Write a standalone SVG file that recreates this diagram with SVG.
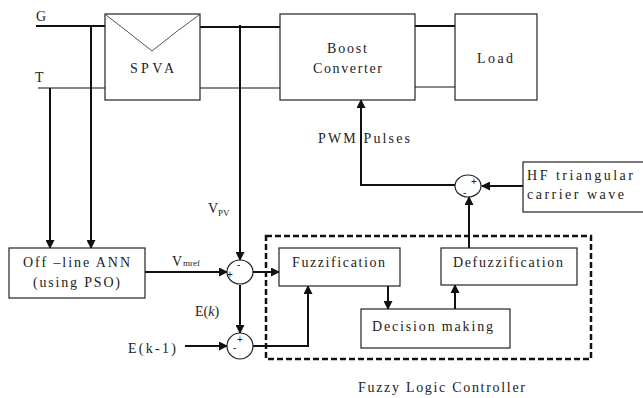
<svg xmlns="http://www.w3.org/2000/svg" width="643" height="398" viewBox="0 0 643 398" font-family="'Liberation Serif','Times New Roman',serif">
<style>
text{font-family:'Liberation Serif','Times New Roman',serif;font-size:14px;fill:#222}
.box{fill:#fff;stroke:#222;stroke-width:1.2}
.w{fill:none;stroke:#111;stroke-width:2}
.t{fill:none;stroke:#111;stroke-width:1.2}
.sum{fill:#fff;stroke:#222;stroke-width:1.2}
.sg{font-family:'Liberation Sans',Arial,sans-serif;font-size:10px}
.sub{font-size:9px}
</style>
<defs>
<marker id="ah" markerWidth="9" markerHeight="9" refX="8" refY="4.5" orient="auto" markerUnits="userSpaceOnUse">
<path d="M0,0 L9,4.5 L0,9 Z" fill="#111"/>
</marker>
</defs>
<rect width="643" height="398" fill="#fff"/>
<g id="connectors">
<line class="w" x1="36" y1="26" x2="105" y2="26"/>
<line class="t" x1="38" y1="88" x2="105" y2="88"/>
<line class="w" x1="200" y1="27" x2="280" y2="27"/>
<line class="t" x1="200" y1="88" x2="280" y2="88"/>
<line class="w" x1="415" y1="26" x2="455" y2="26"/>
<line class="t" x1="415" y1="87" x2="455" y2="87"/>
<line class="w" x1="91" y1="26" x2="91" y2="248" marker-end="url(#ah)"/>
<line class="w" x1="50" y1="88" x2="50" y2="248" marker-end="url(#ah)"/>
<line class="w" x1="240" y1="25" x2="240" y2="260" marker-end="url(#ah)"/>
<line class="w" x1="145" y1="272" x2="227" y2="272" marker-end="url(#ah)"/>
<line class="w" x1="253" y1="272" x2="279" y2="272" marker-end="url(#ah)"/>
<line class="w" x1="240" y1="285" x2="240" y2="333" marker-end="url(#ah)"/>
<line class="w" x1="185" y1="346" x2="227" y2="346" marker-end="url(#ah)"/>
<polyline class="w" points="253,346 308,346 308,286" marker-end="url(#ah)"/>
<line class="w" x1="388" y1="286" x2="388" y2="309" marker-end="url(#ah)"/>
<line class="w" x1="455" y1="309" x2="455" y2="285" marker-end="url(#ah)"/>
<line class="w" x1="469" y1="248" x2="469" y2="197" marker-end="url(#ah)"/>
<line class="w" x1="523" y1="186" x2="482" y2="186" marker-end="url(#ah)"/>
<polyline class="w" points="455,185 361,185 361,100" marker-end="url(#ah)"/>
</g>
<g id="labels">
<text x="36" y="21">G</text>
<text x="35" y="82">T</text>
<text x="318" y="143" textLength="92">PWM Pulses</text>
<text x="208" y="213">V</text><text x="218" y="216" class="sub">PV</text>
<text x="172" y="266">V</text><text x="183" y="266" class="sub">mref</text>
<text x="195" y="316">E(<tspan font-style="italic">k</tspan>)</text>
<text x="128" y="353" textLength="48">E(k-1)</text>
</g>
<g id="spva">
<rect class="box" x="105" y="14" width="95" height="86"/>
<polyline fill="none" stroke="#555" stroke-width="1" points="106,15 128,32 152,51 176,32 199,15"/>
<text x="130" y="73" textLength="44">SPVA</text>
</g>
<g id="boost">
<rect class="box" x="280" y="14" width="135" height="86"/>
<text x="327" y="53" textLength="40">Boost</text>
<text x="313" y="73" textLength="69">Converter</text>
</g>
<g id="load">
<rect class="box" x="455" y="14" width="82" height="86"/>
<text x="477" y="63" textLength="36">Load</text>
</g>
<g id="hf">
<rect class="box" x="523" y="162" width="122" height="50"/>
<text x="527" y="180" textLength="106">HF triangular</text>
<text x="527" y="199" textLength="97">carrier wave</text>
</g>
<g id="sum3">
<ellipse class="sum" cx="468" cy="186" rx="13" ry="11"/>
<text class="sg" x="471" y="185">+</text>
<text class="sg" x="463" y="196">-</text>
</g>
<g id="ann">
<rect class="box" x="9" y="248" width="136" height="50"/>
<text x="23" y="267" textLength="107">Off –line ANN</text>
<text x="33" y="287" textLength="87">(using PSO)</text>
</g>
<g id="sum1">
<ellipse class="sum" cx="240" cy="272" rx="13" ry="12"/>
<text class="sg" x="237" y="268">-</text>
<text class="sg" x="227" y="278">+</text>
</g>
<g id="sum2">
<ellipse class="sum" cx="240" cy="346" rx="13" ry="13"/>
<text class="sg" x="237" y="343">+</text>
<text class="sg" x="233" y="351">-</text>
</g>
<g id="flc">
<rect x="266" y="236" width="325" height="123" fill="none" stroke="#111" stroke-width="2.5" stroke-dasharray="6,3"/>
<text x="358" y="392" textLength="167">Fuzzy Logic Controller</text>
</g>
<g id="fuzzification">
<rect class="box" x="279" y="248" width="121" height="38"/>
<text x="292" y="267" textLength="93">Fuzzification</text>
</g>
<g id="defuzzification">
<rect class="box" x="441" y="248" width="136" height="37"/>
<text x="453" y="267" textLength="110">Defuzzification</text>
</g>
<g id="decision">
<rect class="box" x="361" y="309" width="149" height="39"/>
<text x="372" y="331" textLength="121">Decision making</text>
</g>
</svg>
